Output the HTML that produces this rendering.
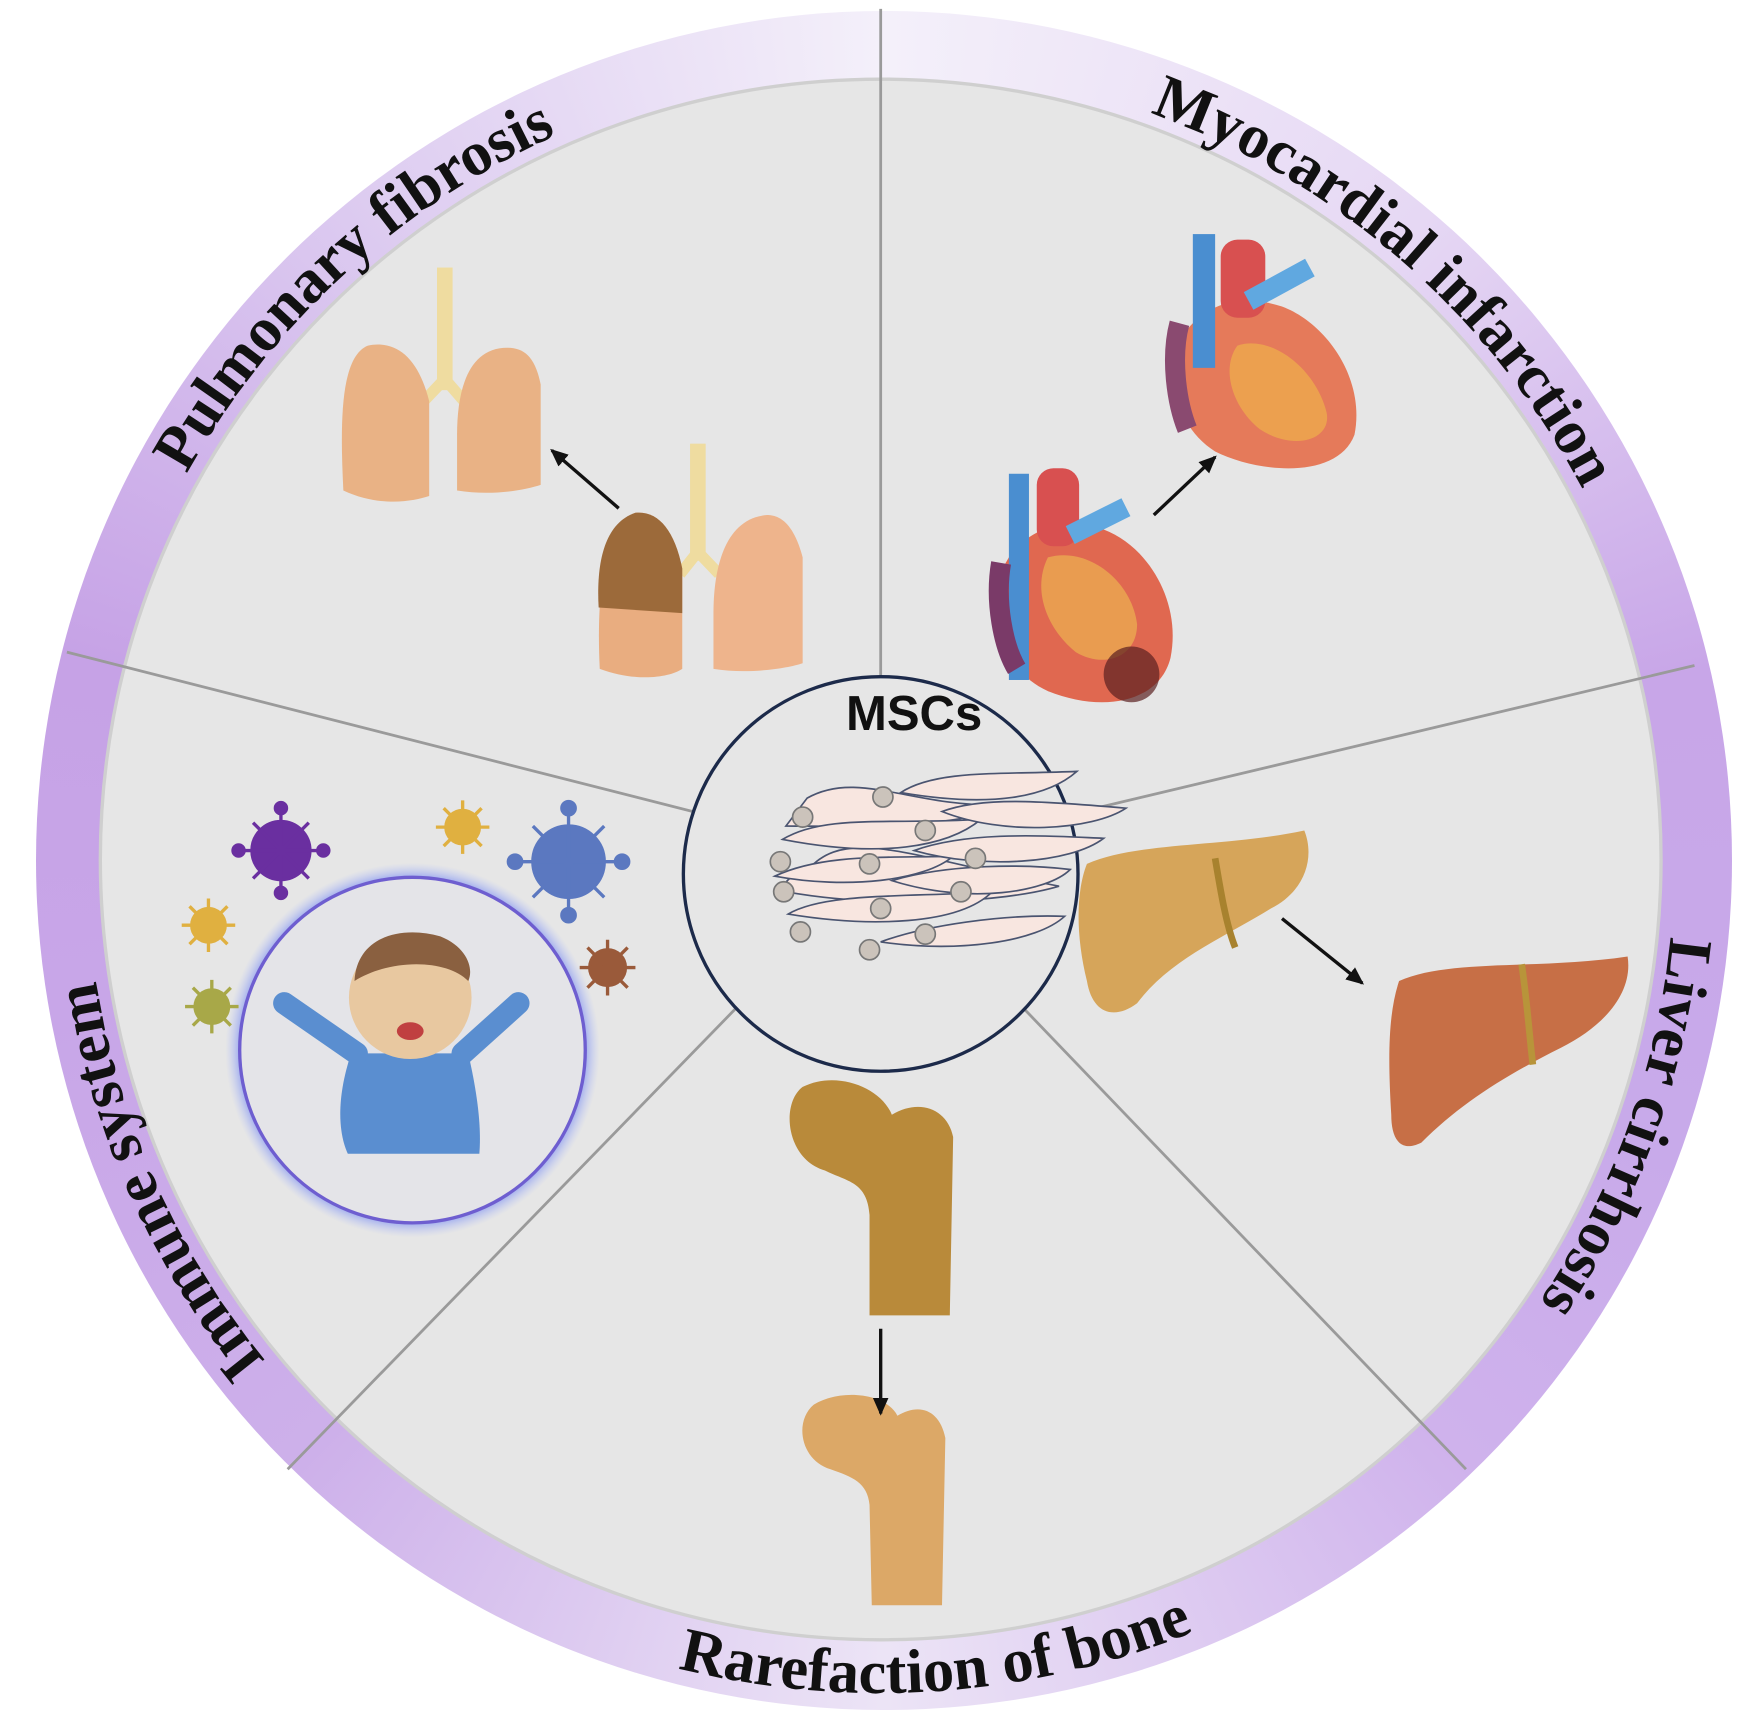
<!DOCTYPE html>
<html><head><meta charset="utf-8"><style>
html,body{margin:0;padding:0;background:#fff;}
#wrap{position:relative;width:1748px;height:1710px;overflow:hidden;}
#ring{position:absolute;left:36px;top:11px;width:1696px;height:1699px;border-radius:50%;
background:conic-gradient(from 0deg,#f4f0fa 0deg,#e6d8f4 40deg,#c8a6e8 77deg,#c8aaea 110deg,#cfb2ec 136deg,#ece4f6 180deg,#cdb0ea 224deg,#c8a6e8 260deg,#c6a2e6 284deg,#dccaf0 320deg,#f4f0fa 360deg);}
svg{position:absolute;left:0;top:0;}
</style></head><body><div id="wrap"><div id="ring"></div>
<svg width="1748" height="1710" viewBox="0 0 1568 1534" preserveAspectRatio="none" xmlns="http://www.w3.org/2000/svg">
<defs>
<marker id="ah" markerWidth="16" markerHeight="14" refX="14" refY="7" orient="auto" markerUnits="userSpaceOnUse"><path d="M0,0 L16,7 L0,14 Z" fill="#111"/></marker>
<radialGradient id="glow" cx="50%" cy="50%" r="50%"><stop offset="80%" stop-color="#fff" stop-opacity="0"/><stop offset="92%" stop-color="#8c9cf0" stop-opacity="0.8"/><stop offset="100%" stop-color="#b8c4f8" stop-opacity="0"/></radialGradient>
<path id="pPF" d="M 102 587 A 712 712 0 0 1 666 70"/>
<path id="pMI" d="M 914 70 A 712 712 0 0 1 1467 551"/>
<path id="pLC" d="M 1491 647 A 712 712 0 0 1 1228 1332"/>
<path id="pIS" d="M 382 1354 A 712 712 0 0 1 83 684"/>
<path id="pRB" d="M 416 1419 A 748 748 0 0 0 1250 1360"/>
</defs>
<circle cx="790" cy="771" r="700" fill="#e6e6e6" stroke="#cfcfcf" stroke-width="3"/>
<g stroke="#9a9a9a" stroke-width="2.5">
<line x1="790" y1="771" x2="790" y2="8"/>
<line x1="790" y1="771" x2="60" y2="585"/>
<line x1="790" y1="771" x2="1520" y2="597"/>
<line x1="790" y1="771" x2="258" y2="1318"/>
<line x1="790" y1="771" x2="1315" y2="1318"/>
</g>
<g font-family="Liberation Serif, serif" font-weight="bold" font-size="56" fill="#111">
<text><textPath href="#pPF" startOffset="50%" text-anchor="middle">Pulmonary fibrosis</textPath></text>
<text><textPath href="#pMI" startOffset="50%" text-anchor="middle">Myocardial infarction</textPath></text>
<text><textPath href="#pLC" startOffset="48%" text-anchor="middle">Liver cirrhosis</textPath></text>
<text><textPath href="#pIS" startOffset="50%" text-anchor="middle">Immune system</textPath></text>
<text><textPath href="#pRB" startOffset="50%" text-anchor="middle">Rarefaction of bone</textPath></text>
</g>
<!-- MSC circle -->
<circle cx="790" cy="784" r="177" fill="#e6e6e6" stroke="#1c2a4a" stroke-width="3"/>
<text x="820" y="655" font-family="Liberation Sans, sans-serif" font-weight="bold" font-size="44" text-anchor="middle" fill="#111">MSCs</text>
<g fill="#f8e6e0" stroke="#4a5470" stroke-width="1.5">
<path d="M725,780 C760,740 820,770 950,795 C900,810 790,815 705,800 C700,790 712,785 725,780Z"/>
<path d="M724,716 C770,690 820,725 900,722 C870,740 800,742 705,741 Z"/>
<path d="M808,711 C840,690 900,695 966,692 C940,715 890,725 808,711Z"/>
<path d="M702,753 C740,730 800,740 880,735 C850,760 790,770 702,753Z"/>
<path d="M845,728 C880,715 930,718 1010,725 C980,745 900,750 845,728Z"/>
<path d="M695,786 C740,765 800,770 855,768 C830,790 760,798 695,786Z"/>
<path d="M820,763 C870,745 940,750 990,752 C960,775 880,780 820,763Z"/>
<path d="M707,820 C740,800 820,805 890,800 C860,830 780,832 707,820Z"/>
<path d="M800,790 C850,775 920,775 960,780 C940,800 870,812 800,790Z"/>
<path d="M790,845 C830,830 900,820 955,822 C930,845 860,855 790,845Z"/>
</g>
<g fill="#cbc3bb" stroke="#777" stroke-width="1.5">
<circle cx="792" cy="715" r="9"/><circle cx="720" cy="733" r="9"/><circle cx="830" cy="745" r="9"/>
<circle cx="700" cy="773" r="9"/><circle cx="780" cy="775" r="9"/><circle cx="875" cy="770" r="9"/>
<circle cx="703" cy="800" r="9"/><circle cx="790" cy="815" r="9"/><circle cx="862" cy="800" r="9"/>
<circle cx="718" cy="836" r="9"/><circle cx="780" cy="852" r="9"/><circle cx="830" cy="838" r="9"/>
</g>
<!-- Lungs upper -->
<g>
<rect x="392" y="240" width="14" height="110" fill="#efdca0"/>
<path d="M399,340 L380,360 M399,340 L418,362" stroke="#efdca0" stroke-width="10"/>
<path d="M330,310 C305,320 305,380 308,440 C340,455 370,450 385,445 L385,360 C375,320 355,305 330,310Z" fill="#e9b285"/>
<path d="M455,312 C420,312 410,350 410,390 L410,440 C440,445 470,440 485,435 L485,345 C480,320 470,312 455,312Z" fill="#e9b285"/>
</g>
<line x1="555" y1="456" x2="495" y2="404" stroke="#111" stroke-width="3" marker-end="url(#ah)"/>
<!-- Lungs lower -->
<g>
<rect x="619" y="398" width="14" height="105" fill="#efdca0"/>
<path d="M626,495 L610,515 M626,495 L645,515" stroke="#efdca0" stroke-width="10"/>
<path d="M570,460 C540,470 535,540 538,600 C570,612 600,608 612,600 L612,510 C605,475 590,458 570,460Z" fill="#e9ad80"/>
<path d="M570,460 C540,470 535,510 537,545 L612,550 L612,510 C605,475 590,458 570,460Z" fill="#9c6a3a"/>
<path d="M688,462 C650,465 640,510 640,550 L640,600 C670,605 705,600 720,595 L720,500 C712,470 700,462 688,462Z" fill="#eeb48c"/>
</g>
<!-- Heart upper -->
<g>
<path d="M1070,290 C1040,320 1050,380 1090,405 C1130,425 1200,430 1215,390 C1225,340 1190,290 1150,275 C1110,262 1085,275 1070,290Z" fill="#e57a5a"/>
<path d="M1110,310 C1140,300 1180,330 1190,370 C1195,395 1160,405 1130,385 C1105,365 1095,330 1110,310Z" fill="#f0b04a" opacity="0.7"/>
<rect x="1070" y="210" width="20" height="120" fill="#4a8ed0"/>
<rect x="1095" y="215" width="40" height="70" rx="15" fill="#d85050"/>
<path d="M1120,270 L1175,240" stroke="#60a8e0" stroke-width="18"/>
<path d="M1058,290 C1050,320 1055,360 1065,385" stroke="#8a4a70" stroke-width="18" fill="none"/>
</g>
<line x1="1035" y1="462" x2="1090" y2="410" stroke="#111" stroke-width="3" marker-end="url(#ah)"/>
<!-- Heart lower -->
<g>
<path d="M905,500 C880,540 895,600 940,620 C990,640 1040,630 1050,590 C1060,540 1030,490 990,475 C950,462 920,478 905,500Z" fill="#e06850"/>
<path d="M940,500 C975,490 1015,520 1020,560 C1020,590 990,600 965,585 C940,565 925,530 940,500Z" fill="#eec050" opacity="0.6"/>
<circle cx="1015" cy="605" r="25" fill="#5a2020" opacity="0.7"/>
<rect x="905" y="425" width="18" height="185" fill="#4a8ed0"/>
<rect x="930" y="420" width="38" height="70" rx="15" fill="#d85050"/>
<path d="M960,480 L1010,455" stroke="#60a8e0" stroke-width="18"/>
<path d="M898,505 C892,540 900,580 912,600" stroke="#7a3a68" stroke-width="18" fill="none"/>
</g>
<!-- Liver 1 -->
<path d="M975,775 C1020,755 1100,760 1170,745 C1180,770 1170,800 1140,815 C1100,840 1050,860 1020,900 C1000,915 980,910 975,880 C965,840 965,800 975,775Z" fill="#d6a55a"/>
<path d="M1090,770 C1095,800 1100,830 1108,850" stroke="#a8822e" stroke-width="6" fill="none"/>
<line x1="1150" y1="824" x2="1222" y2="882" stroke="#111" stroke-width="3" marker-end="url(#ah)"/>
<!-- Liver 2 -->
<path d="M1255,880 C1300,860 1380,870 1460,858 C1465,890 1440,920 1400,940 C1350,965 1310,990 1275,1025 C1255,1035 1248,1020 1248,1000 C1245,950 1245,910 1255,880Z" fill="#c76f46"/>
<path d="M1365,865 C1370,900 1372,930 1375,955" stroke="#b8943a" stroke-width="6" fill="none"/>
<!-- Bone 1 -->
<path d="M720,975 C700,990 705,1040 740,1050 C760,1060 778,1060 780,1090 L780,1180 L852,1180 L855,1020 C850,995 825,985 800,1000 C790,975 750,960 720,975Z" fill="#b98a3a"/>
<!-- Bone 2 -->
<path d="M730,1260 C712,1275 718,1310 745,1318 C765,1325 778,1330 780,1350 L782,1440 L845,1440 L848,1290 C843,1265 825,1258 805,1270 C795,1250 755,1245 730,1260Z" fill="#dca867"/>
<line x1="790" y1="1192" x2="790" y2="1268" stroke="#111" stroke-width="3" marker-end="url(#ah)"/>
<!-- Child circle -->
<circle cx="370" cy="942" r="168" fill="url(#glow)"/>
<circle cx="370" cy="942" r="155" fill="#e4e4e8" stroke="#6e5ed0" stroke-width="3"/>
<path d="M315,945 C300,990 305,1020 312,1035 L430,1035 C432,1010 428,980 420,945 Z" fill="#5a8ed0"/>
<path d="M320,945 L255,900 M415,945 L465,900" stroke="#5a8ed0" stroke-width="20" stroke-linecap="round"/>
<circle cx="368" cy="895" r="55" fill="#e8c8a0"/>
<path d="M318,880 C320,840 360,830 395,840 C420,850 425,870 420,880 C400,860 350,860 318,880Z" fill="#8a6040"/>
<ellipse cx="368" cy="925" rx="12" ry="8" fill="#c04040"/>
<!-- viruses -->
<g stroke-width="3">
<g stroke="#6a2fa0" fill="#6a2fa0"><circle cx="252" cy="763" r="26"/><path d="M252,727 V799 M216,763 H288 M227,738 L277,788 M277,738 L227,788"/><circle cx="252" cy="725" r="5"/><circle cx="252" cy="801" r="5"/><circle cx="214" cy="763" r="5"/><circle cx="290" cy="763" r="5"/></g>
<g stroke="#e0b040" fill="#e0b040"><circle cx="415" cy="742" r="15"/><path d="M415,718 V766 M391,742 H439 M398,725 L432,759 M432,725 L398,759"/></g>
<g stroke="#5b78c0" fill="#5b78c0"><circle cx="510" cy="773" r="32"/><path d="M510,727 V819 M464,773 H556 M478,741 L542,805 M542,741 L478,805"/><circle cx="510" cy="725" r="6"/><circle cx="510" cy="821" r="6"/><circle cx="462" cy="773" r="6"/><circle cx="558" cy="773" r="6"/></g>
<g stroke="#e0b040" fill="#e0b040"><circle cx="187" cy="830" r="15"/><path d="M187,806 V854 M163,830 H211 M170,813 L204,847 M204,813 L170,847"/></g>
<g stroke="#a8a848" fill="#a8a848"><circle cx="190" cy="903" r="15"/><path d="M190,879 V927 M166,903 H214 M173,886 L207,920 M207,886 L173,920"/></g>
<g stroke="#9a5a3a" fill="#9a5a3a"><circle cx="545" cy="868" r="16"/><path d="M545,843 V893 M520,868 H570 M527,850 L563,886 M563,850 L527,886"/></g>
</g>
</svg></div></body></html>
